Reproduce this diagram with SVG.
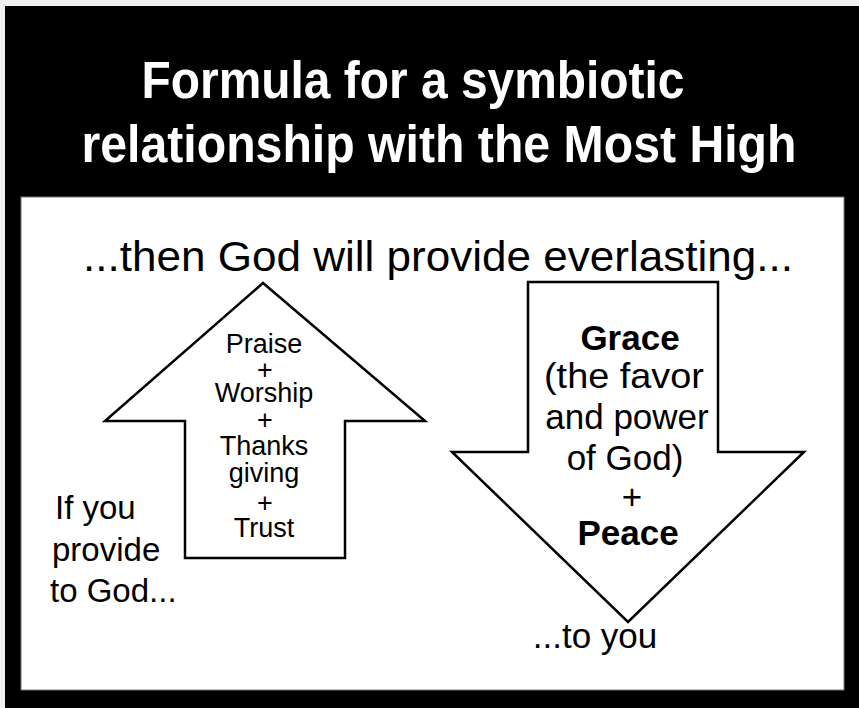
<svg xmlns="http://www.w3.org/2000/svg" width="859" height="708" viewBox="0 0 859 708">
<style>
.t{font-family:"Liberation Sans",Arial,sans-serif;fill:#000;text-anchor:middle}
.b{font-weight:bold}
.w{fill:#fff}
.arrow{fill:#fff;stroke:#000;stroke-width:2.5;stroke-linejoin:miter}
</style>
<rect width="859" height="708" fill="#f0f0f0"/>
<rect id="frame" x="5" y="6" width="854" height="702" fill="#000"/>
<g id="title">
<text class="t b w" x="413" y="98" font-size="51" style="fill:#fff" textLength="543" lengthAdjust="spacingAndGlyphs">Formula for a symbiotic</text>
<text class="t b w" x="439" y="162" font-size="51" style="fill:#fff" textLength="715" lengthAdjust="spacingAndGlyphs">relationship with the Most High</text>
</g>
<rect id="panel" x="21" y="197" width="823" height="493" fill="#fff" stroke="#777" stroke-width="1"/>
<g id="heading">
<text class="t" x="438" y="271" font-size="42" textLength="710" lengthAdjust="spacingAndGlyphs">...then God will provide everlasting...</text>
</g>
<g id="connectors"></g>
<g id="up-arrow">
<polygon class="arrow" points="263,283 425,421 345,421 345,558 185,558 185,421 105,421"/>
<g class="t" font-size="27">
<text x="264" y="353">Praise</text>
<text x="265" y="379">+</text>
<text x="264" y="402">Worship</text>
<text x="265" y="429">+</text>
<text x="264" y="455">Thanks</text>
<text x="264" y="482">giving</text>
<text x="265" y="512">+</text>
<text x="264" y="537">Trust</text>
</g>
</g>
<g id="down-arrow">
<polygon class="arrow" points="528,282 718,282 718,452 804,452 628,622 452,452 528,452"/>
<g class="t" font-size="35">
<text class="b" x="630" y="350">Grace</text>
<text x="624" y="388" textLength="160" lengthAdjust="spacingAndGlyphs">(the favor</text>
<text x="627" y="429">and power</text>
<text x="625" y="470">of God)</text>
<text x="632" y="509">+</text>
<text class="b" x="628" y="545">Peace</text>
</g>
</g>
<g id="left-label">
<text class="t" x="55" y="519" font-size="33" style="text-anchor:start">If you</text>
<text class="t" x="52" y="561" font-size="33" style="text-anchor:start">provide</text>
<text class="t" x="50" y="602" font-size="33" style="text-anchor:start">to God...</text>
</g>
<g id="bottom-label">
<text class="t" x="595" y="648" font-size="35">...to you</text>
</g>
</svg>
